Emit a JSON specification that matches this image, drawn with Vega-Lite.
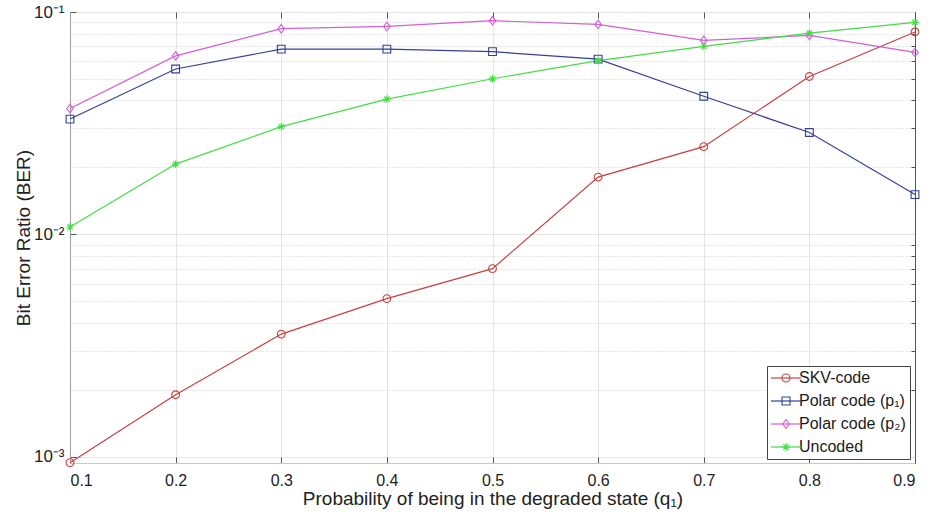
{
  "$schema": "https://vega.github.io/schema/vega-lite/v6.json",
  "width": 845,
  "height": 451,
  "autosize": {"type": "none"},
  "padding": {"left": 70, "top": 12, "right": 14, "bottom": 59},
  "background": "white",
  "config": {
    "font": "Liberation Sans",
    "view": {"stroke": "#c8c8c8"}
  },
  "data": {
    "values": [
      {"q": 0.1, "ber": 0.00094, "series": "SKV-code"},
      {"q": 0.2, "ber": 0.0019, "series": "SKV-code"},
      {"q": 0.3, "ber": 0.00356, "series": "SKV-code"},
      {"q": 0.4, "ber": 0.00514, "series": "SKV-code"},
      {"q": 0.5, "ber": 0.00701, "series": "SKV-code"},
      {"q": 0.6, "ber": 0.0181, "series": "SKV-code"},
      {"q": 0.7, "ber": 0.0248, "series": "SKV-code"},
      {"q": 0.8, "ber": 0.0513, "series": "SKV-code"},
      {"q": 0.9, "ber": 0.0813, "series": "SKV-code"},
      {"q": 0.1, "ber": 0.033, "series": "Polar code (p₁)"},
      {"q": 0.2, "ber": 0.0554, "series": "Polar code (p₁)"},
      {"q": 0.3, "ber": 0.0681, "series": "Polar code (p₁)"},
      {"q": 0.4, "ber": 0.0681, "series": "Polar code (p₁)"},
      {"q": 0.5, "ber": 0.0663, "series": "Polar code (p₁)"},
      {"q": 0.6, "ber": 0.0614, "series": "Polar code (p₁)"},
      {"q": 0.7, "ber": 0.0418, "series": "Polar code (p₁)"},
      {"q": 0.8, "ber": 0.0287, "series": "Polar code (p₁)"},
      {"q": 0.9, "ber": 0.0151, "series": "Polar code (p₁)"},
      {"q": 0.1, "ber": 0.0368, "series": "Polar code (p₂)"},
      {"q": 0.2, "ber": 0.0635, "series": "Polar code (p₂)"},
      {"q": 0.3, "ber": 0.0841, "series": "Polar code (p₂)"},
      {"q": 0.4, "ber": 0.0861, "series": "Polar code (p₂)"},
      {"q": 0.5, "ber": 0.0914, "series": "Polar code (p₂)"},
      {"q": 0.6, "ber": 0.0879, "series": "Polar code (p₂)"},
      {"q": 0.7, "ber": 0.0745, "series": "Polar code (p₂)"},
      {"q": 0.8, "ber": 0.0785, "series": "Polar code (p₂)"},
      {"q": 0.9, "ber": 0.0658, "series": "Polar code (p₂)"},
      {"q": 0.1, "ber": 0.0108, "series": "Uncoded"},
      {"q": 0.2, "ber": 0.0207, "series": "Uncoded"},
      {"q": 0.3, "ber": 0.0305, "series": "Uncoded"},
      {"q": 0.4, "ber": 0.0406, "series": "Uncoded"},
      {"q": 0.5, "ber": 0.0501, "series": "Uncoded"},
      {"q": 0.6, "ber": 0.0604, "series": "Uncoded"},
      {"q": 0.7, "ber": 0.070, "series": "Uncoded"},
      {"q": 0.8, "ber": 0.0804, "series": "Uncoded"},
      {"q": 0.9, "ber": 0.0898, "series": "Uncoded"}
    ]
  },
  "resolve": {"axis": {"x": "independent", "y": "independent"}, "legend": {"color": "independent", "shape": "independent"}},
  "layer": [
    {
      "mark": {"type": "line", "strokeWidth": 1.2},
      "encoding": {
        "x": {
          "field": "q", "type": "quantitative",
          "scale": {"domain": [0.1, 0.9], "nice": false, "zero": false},
          "axis": {
            "orient": "bottom",
            "values": [0.1, 0.2, 0.3, 0.4, 0.5, 0.6, 0.7, 0.8, 0.9],
            "format": ".1f",
            "grid": true, "gridColor": "#e4e4e4", "gridWidth": 1,
            "domainColor": "#c8c8c8",
            "tickSize": -6, "tickColor": "#555555",
            "labelFontSize": 16, "labelColor": "#222222", "labelPadding": 15,
            "labelFont": "Liberation Sans",
            "title": "Probability of being in the degraded state (q₁)",
            "titleFont": "Liberation Sans",
            "titleFontSize": 19, "titleFontWeight": "normal", "titleColor": "#222222",
            "titleY": 26, "titleBaseline": "top"
          }
        },
        "y": {
          "field": "ber", "type": "quantitative",
          "scale": {"type": "log", "domain": [0.000937, 0.1], "nice": false, "zero": false},
          "axis": {
            "orient": "left",
            "values": [0.001, 0.01, 0.1],
            "labelExpr": "datum.value < 0.005 ? '10⁻³' : (datum.value < 0.05 ? '10⁻²' : '10⁻¹')",
            "grid": true, "gridColor": "#e4e4e4", "gridWidth": 1,
            "domainColor": "#a0a0a0",
            "tickSize": -6, "tickColor": "#555555",
            "labelFontSize": 17, "labelColor": "#222222", "labelPadding": 12,
            "labelFont": "Liberation Sans",
            "title": "Bit Error Ratio (BER)",
            "titleFont": "Liberation Sans",
            "titleFontSize": 19, "titleFontWeight": "normal", "titleColor": "#222222",
            "titleX": -37
          }
        },
        "color": {
          "field": "series", "type": "nominal",
          "scale": {
            "domain": ["SKV-code", "Polar code (p₁)", "Polar code (p₂)", "Uncoded"],
            "range": ["#C9403F", "#33409A", "#D35ED8", "#44DD44"]
          },
          "legend": {
            "orient": "none", "legendX": 697, "legendY": 354, "title": null,
            "padding": 4, "symbolOffset": 7, "symbolSize": 64, "labelOffset": 5,
            "labelFontSize": 16, "labelFont": "Liberation Sans",
            "labelExpr": "''",
            "rowPadding": 7, "strokeColor": "transparent", "fillColor": "transparent",
            "symbolType": "M-3.75,0L3.75,0",
            "symbolStrokeWidth": 1.2,
            "zindex": 2
          }
        }
      }
    },
    {
      "mark": {"type": "point", "filled": false, "size": 60, "strokeWidth": 1.1, "opacity": 1},
      "encoding": {
        "x": {
          "field": "q", "type": "quantitative",
          "scale": {"domain": [0.1, 0.9], "nice": false, "zero": false},
          "axis": {
            "orient": "top",
            "values": [0.1, 0.2, 0.3, 0.4, 0.5, 0.6, 0.7, 0.8, 0.9],
            "labels": false, "grid": false, "domain": false,
            "tickSize": -6, "tickColor": "#555555",
            "title": null
          }
        },
        "y": {
          "field": "ber", "type": "quantitative",
          "scale": {"type": "log", "domain": [0.000937, 0.1], "nice": false, "zero": false},
          "axis": {
            "orient": "right",
            "values": [0.002, 0.003, 0.004, 0.005, 0.006, 0.007, 0.008, 0.009, 0.02, 0.03, 0.04, 0.05, 0.06, 0.07, 0.08, 0.09],
            "labels": false,
            "grid": true, "gridColor": "#cfcfcf", "gridDash": [1, 2], "gridWidth": 1,
            "domain": true, "domainColor": "#555555",
            "tickSize": -4, "tickColor": "#555555",
            "title": null
          }
        },
        "color": {
          "field": "series", "type": "nominal",
          "scale": {
            "domain": ["SKV-code", "Polar code (p₁)", "Polar code (p₂)", "Uncoded"],
            "range": ["#C9403F", "#33409A", "#D35ED8", "#44DD44"]
          },
          "legend": {
            "orient": "none", "legendX": 697, "legendY": 354, "title": null,
            "padding": 4, "symbolOffset": 7, "symbolSize": 64, "labelOffset": 5,
            "labelFontSize": 16, "labelColor": "#1a1a1a", "labelFont": "Liberation Sans",
            "rowPadding": 7, "strokeColor": "#444444", "fillColor": "white",
            "symbolStrokeWidth": 1.1,
            "zindex": 1
          }
        },
        "shape": {
          "field": "series", "type": "nominal",
          "scale": {
            "domain": ["SKV-code", "Polar code (p₁)", "Polar code (p₂)", "Uncoded"],
            "range": ["circle", "square", "M0,-1.1L0.85,0L0,1.1L-0.85,0Z", "M0,-1L0,1M-1,0L1,0M-0.7,-0.7L0.7,0.7M-0.7,0.7L0.7,-0.7"]
          },
          "legend": {
            "orient": "none", "legendX": 697, "legendY": 354, "title": null,
            "padding": 4, "symbolOffset": 7, "symbolSize": 64, "labelOffset": 5,
            "labelFontSize": 16, "labelColor": "#1a1a1a", "labelFont": "Liberation Sans",
            "rowPadding": 7, "strokeColor": "#444444", "fillColor": "white",
            "symbolStrokeWidth": 1.1,
            "zindex": 1
          }
        }
      }
    }
  ]
}
